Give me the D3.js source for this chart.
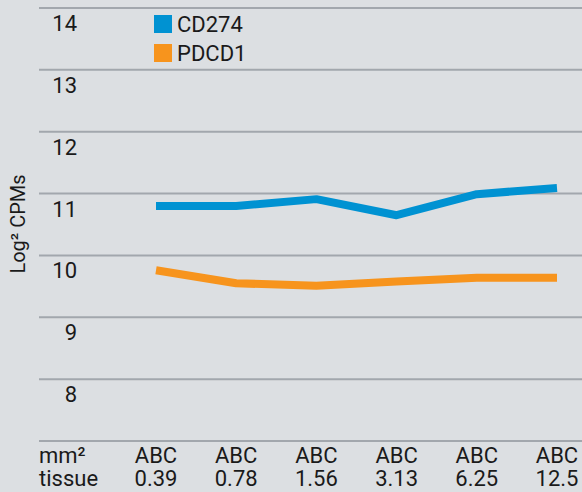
<!DOCTYPE html>
<html lang="en">
<head>
  <meta charset="UTF-8">
  <title>CD274 / PDCD1</title>
  <script src="https://d3js.org/d3.v7.min.js"></script>
  <style>
    body { margin: 0; background: #dcdfe2; }
    svg { display: block; }
    text { font-family: Roboto, "Noto Sans", sans-serif; fill: #1a1a1a; }
    .grid line { stroke: #a2a7ad; stroke-width: 2; }
  </style>
</head>
<body>
<svg id="chart" width="582" height="492"></svg>
<script>
const categories = ["0.39", "0.78", "1.56", "3.13", "6.25", "12.5"];
const cd274 = [10.80, 10.80, 10.91, 10.65, 10.99, 11.09];
const pdcd1 = [9.76, 9.55, 9.51, 9.58, 9.64, 9.64];
const yTicks = [7, 8, 9, 10, 11, 12, 13, 14];
const series = [
  { name: "CD274", values: cd274, color: "#0092d2" },
  { name: "PDCD1", values: pdcd1, color: "#f7941d" }
];

const svg = d3.select("#chart");
const W = 582, H = 492;
const gridLeft = 39, gridRight = W;
const plotTop = 8, plotBottom = 441;

svg.append("rect").attr("width", W).attr("height", H).attr("fill", "#dcdfe2");

const x = d3.scalePoint().domain(categories).range([156, 557]);
const y = d3.scaleLinear().domain([7, 14]).range([plotBottom, plotTop]);

// gridlines
svg.append("g").attr("class", "grid")
  .selectAll("line")
  .data(yTicks)
  .join("line")
    .attr("x1", gridLeft).attr("x2", gridRight)
    .attr("y1", d => y(d)).attr("y2", d => y(d));

// y labels sit under their gridline
svg.append("g")
  .selectAll("text")
  .data(yTicks.filter(d => d > 7))
  .join("text")
    .attr("x", 77)
    .attr("y", d => y(d) + 23)
    .attr("text-anchor", "end")
    .style("font-size", "22px")
    .text(d => d);

// y title
svg.append("text")
  .attr("transform", "translate(25,224) rotate(-90)")
  .attr("text-anchor", "middle")
  .style("font-size", "20px")
  .text("Log² CPMs");

// lines
const line = d3.line()
  .x((d, i) => x(categories[i]))
  .y(d => y(d));

svg.append("g")
  .selectAll("path")
  .data(series)
  .join("path")
    .attr("d", d => line(d.values))
    .attr("fill", "none")
    .attr("stroke", d => d.color)
    .attr("stroke-width", 8)
    .attr("stroke-linejoin", "round");

// legend
const legend = svg.append("g")
  .selectAll("g")
  .data(series)
  .join("g")
    .attr("transform", (d, i) => `translate(154,${15 + i * 29})`);
legend.append("rect")
  .attr("width", 18).attr("height", 18)
  .attr("fill", d => d.color);
legend.append("text")
  .attr("x", 23).attr("y", 17)
  .style("font-size", "22px")
  .text(d => d.name);

// x labels
svg.append("text")
  .attr("x", gridLeft).attr("y", 463)
  .style("font-size", "22px")
  .text("mm²");
svg.append("text")
  .attr("x", gridLeft).attr("y", 486)
  .style("font-size", "22px")
  .text("tissue");

const xl = svg.append("g")
  .selectAll("g")
  .data(categories)
  .join("g");
xl.append("text")
  .attr("x", d => x(d)).attr("y", 463)
  .attr("text-anchor", "middle")
  .style("font-size", "22px")
  .text("ABC");
xl.append("text")
  .attr("x", d => x(d)).attr("y", 486)
  .attr("text-anchor", "middle")
  .style("font-size", "22px")
  .text(d => d);
</script>
</body>
</html>
